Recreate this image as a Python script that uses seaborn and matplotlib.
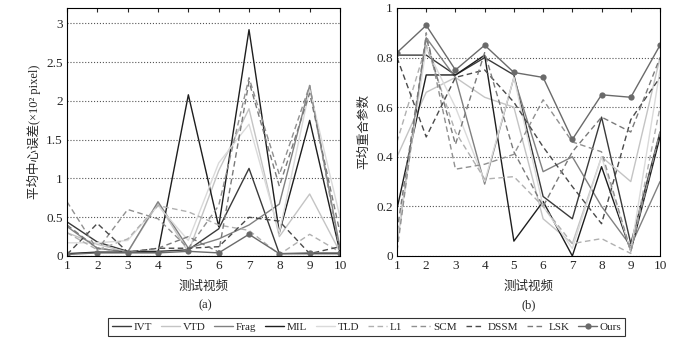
import matplotlib
matplotlib.use("Agg")
import matplotlib.pyplot as plt
import seaborn as sns
import pandas as pd
import numpy as np

sns.set_style("white")
plt.rcParams['font.family'] = ['Liberation Serif', 'Noto Sans CJK SC']
plt.rcParams['axes.unicode_minus'] = False

videos = list(range(1, 11))
methods = ["IVT", "VTD", "Frag", "MIL", "TLD", "L1", "SCM", "DSSM", "LSK", "Ours"]

# (a) average center error (x10^2 pixel)
cle_IVT  = [0.44, 0.18, 0.06, 0.06, 0.08, 0.35, 1.13, 0.03, 0.03, 0.03]
cle_VTD  = [0.30, 0.15, 0.05, 0.68, 0.05, 1.10, 1.90, 0.25, 0.80, 0.05]
cle_Frag = [0.38, 0.10, 0.05, 0.70, 0.10, 0.22, 0.40, 0.67, 2.20, 0.10]
cle_MIL  = [0.03, 0.05, 0.05, 0.05, 2.08, 0.38, 2.92, 0.30, 1.75, 0.05]
cle_TLD  = [0.17, 0.17, 0.20, 0.65, 0.20, 1.20, 1.70, 0.30, 2.15, 0.50]
cle_L1   = [0.30, 0.08, 0.22, 0.65, 0.57, 0.40, 0.33, 0.02, 0.28, 0.05]
cle_SCM  = [0.70, 0.08, 0.60, 0.48, 0.10, 0.65, 2.30, 1.05, 2.20, 0.05]
cle_DSSM = [0.02, 0.42, 0.05, 0.10, 0.10, 0.12, 0.50, 0.45, 0.03, 0.12]
cle_LSK  = [0.40, 0.10, 0.05, 0.10, 0.25, 0.05, 2.25, 0.90, 2.10, 0.30]
cle_Ours = [0.02, 0.04, 0.04, 0.04, 0.06, 0.04, 0.28, 0.03, 0.04, 0.04]

# (b) average overlap
ov_IVT  = [0.81, 0.81, 0.73, 0.80, 0.73, 0.24, 0.15, 0.56, 0.05, 0.50]
ov_VTD  = [0.40, 0.66, 0.72, 0.64, 0.60, 0.15, 0.05, 0.40, 0.30, 0.80]
ov_Frag = [0.05, 0.88, 0.72, 0.29, 0.72, 0.34, 0.40, 0.20, 0.04, 0.30]
ov_MIL  = [0.19, 0.73, 0.73, 0.81, 0.06, 0.22, 0.00, 0.36, 0.02, 0.48]
ov_TLD  = [0.06, 0.84, 0.60, 0.30, 0.72, 0.20, 0.03, 0.40, 0.02, 0.75]
ov_L1   = [0.46, 0.85, 0.50, 0.31, 0.32, 0.20, 0.05, 0.07, 0.01, 0.60]
ov_SCM  = [0.02, 0.90, 0.35, 0.37, 0.41, 0.63, 0.46, 0.42, 0.02, 0.50]
ov_DSSM = [0.80, 0.48, 0.72, 0.75, 0.62, 0.44, 0.28, 0.13, 0.55, 0.72]
ov_LSK  = [0.10, 0.88, 0.45, 0.82, 0.42, 0.20, 0.42, 0.56, 0.50, 0.80]
ov_Ours = [0.82, 0.93, 0.75, 0.85, 0.74, 0.72, 0.47, 0.65, 0.64, 0.85]

cle = [cle_IVT, cle_VTD, cle_Frag, cle_MIL, cle_TLD, cle_L1, cle_SCM, cle_DSSM, cle_LSK, cle_Ours]
ov = [ov_IVT, ov_VTD, ov_Frag, ov_MIL, ov_TLD, ov_L1, ov_SCM, ov_DSSM, ov_LSK, ov_Ours]

colors = ["#3a3a3a", "#c4c4c4", "#808080", "#1e1e1e", "#dadada",
          "#b0b0b0", "#909090", "#4a4a4a", "#7a7a7a", "#6a6a6a"]
dashed = [False, False, False, False, False, True, True, True, True, False]

fig = plt.figure(figsize=(6.73, 3.49), dpi=100)
axA = fig.add_axes([0.0996, 0.2665, 0.4056, 0.7106])
axB = fig.add_axes([0.5899, 0.2665, 0.3908, 0.7106])

def draw(ax, data):
    for i, m in enumerate(methods):
        df = pd.DataFrame({"video": videos, "value": data[i]})
        kw = dict(marker="o", markersize=4.5, markeredgewidth=0) if m == "Ours" else {}
        if dashed[i]:
            kw["dashes"] = (4, 2.5)
        sns.lineplot(data=df, x="video", y="value", ax=ax, color=colors[i],
                     linewidth=1.0, label=m, legend=False, **kw)
    ax.set_xlim(1, 10)
    ax.set_xticks(videos)
    ax.tick_params(direction="in", top=True, right=False, labelsize=9.5, length=3, pad=3)
    for s in ax.spines.values():
        s.set_color("black")
        s.set_linewidth(0.8)
    ax.yaxis.grid(True, linestyle=":", color="#555555", linewidth=0.8)
    ax.set_axisbelow(True)
    ax.set_xlabel("测试视频", fontsize=9, labelpad=6)

draw(axA, cle)
axA.set_ylim(0, 3.2)
axA.set_yticks([0, 0.5, 1, 1.5, 2, 2.5, 3])
axA.set_yticklabels(["0", "0.5", "1", "1.5", "2", "2.5", "3"])
axA.set_ylabel("平均中心误差(×10² pixel)", fontsize=9, labelpad=4)

draw(axB, ov)
axB.set_ylim(0, 1)
axB.set_yticks([0, 0.2, 0.4, 0.6, 0.8, 1])
axB.set_yticklabels(["0", "0.2", "0.4", "0.6", "0.8", "1"])
axB.set_ylabel("平均重合参数", fontsize=9, labelpad=4)

fig.text(0.305, 0.125, "(a)", ha="center", va="center", fontsize=9)
fig.text(0.785, 0.125, "(b)", ha="center", va="center", fontsize=9)

handles, labels = axA.get_legend_handles_labels()
leg = fig.legend(handles, labels, loc="center", bbox_to_anchor=(0.545, 0.063), ncol=10,
                 fontsize=8, frameon=True, fancybox=False, handlelength=1.7,
                 handletextpad=0.25, columnspacing=0.8, borderpad=0.35)
leg.get_frame().set_edgecolor("black")
leg.get_frame().set_linewidth(0.8)

fig.savefig("out.png", dpi=100)
